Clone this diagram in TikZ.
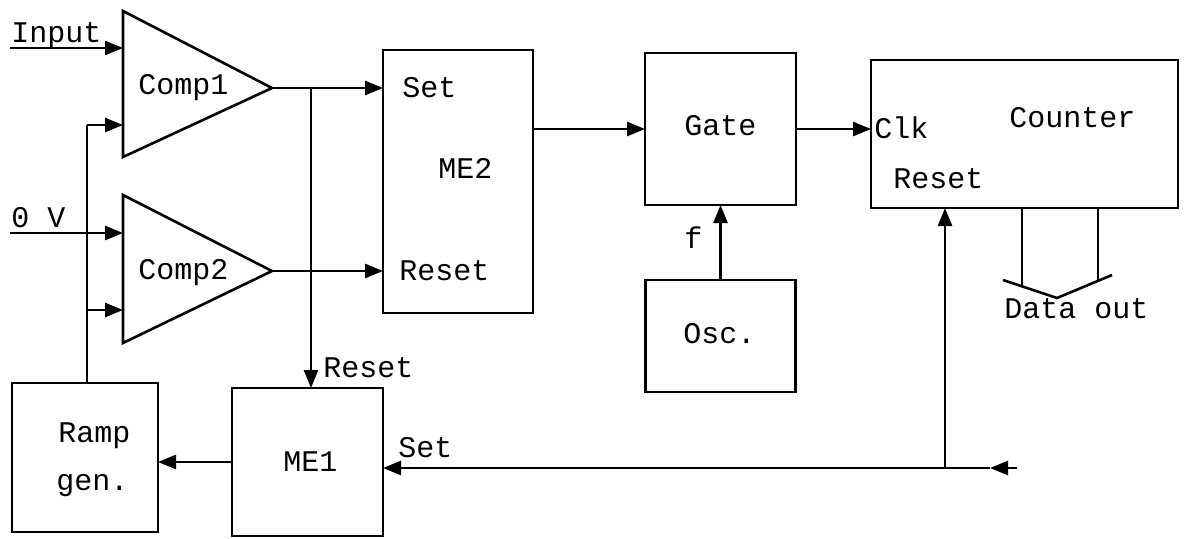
\documentclass[tikz,border=0pt]{standalone}
\usepackage{fontspec}
\setmainfont{Liberation Mono}
\usetikzlibrary{arrows.meta}
\begin{document}
\begin{tikzpicture}[x=1pt,y=-1pt,
  line width=2.6pt,
  box/.style={draw,rectangle,outer sep=0pt,inner sep=0pt},
  lbl/.style={inner sep=0pt,anchor=base west,font=\fontsize{30}{34}\selectfont},
  arr/.style={-{Triangle[length=18pt,width=14pt]}},
  ]
\useasboundingbox (0,0) rectangle (1185,538);

% boxes
\node[box,minimum width=150pt,minimum height=263pt] (me2) at (458,181.5) {};
\node[box,minimum width=151pt,minimum height=152pt] (gate) at (720.5,129) {};
\node[box,minimum width=150pt,minimum height=112pt] (osc) at (720.5,336) {};
\node[box,minimum width=307pt,minimum height=148pt] (counter) at (1024.5,134) {};
\node[box,minimum width=146pt,minimum height=149pt] (ramp) at (85,457.5) {};
\node[box,minimum width=151pt,minimum height=148pt] (me1) at (307.5,462) {};

% comparators
\coordinate (c1a) at (123,11);
\coordinate (c1b) at (123,157);
\coordinate (c1o) at (272,88);
\coordinate (c2a) at (123,195);
\coordinate (c2b) at (123,343);
\coordinate (c2o) at (272,271);
\draw[line join=miter] (c1a) -- (c1o) -- (c1b) -- cycle;
\draw[line join=miter] (c2a) -- (c2o) -- (c2b) -- cycle;

% inputs
\coordinate (in1) at (10,48);
\coordinate (c1p) at (123,48);
\coordinate (c1n) at (123,125);
\coordinate (in0) at (10,233);
\coordinate (c2p) at (123,233);
\coordinate (c2n) at (123,310);
\coordinate (vtop) at (87,125);
\coordinate (vj) at (87,310);
\draw[arr] (in1) -- (c1p);
\draw[arr] (in0) -- (c2p);
\draw (vtop |- ramp.north) -- (vtop);
\draw[arr] (vtop) -- (c1n);
\draw[arr] (vj) -- (c2n);

% comparator outputs
\draw[arr] (c1o) -- (me2.west |- c1o);
\draw[arr] (c2o) -- (me2.west |- c2o);
\coordinate (br) at (311,88);
\draw[arr] (br) -- (br |- me1.north);

% ME2 -> Gate -> Counter
\draw[arr] (me2.east |- gate.west) -- (gate.west);
\draw[arr] (gate.east) -- (counter.west |- gate.east);
\draw[arr] (osc.north) -- (gate.south);

% ME1 -> Ramp
\draw[arr] (me1.west) -- (ramp.east |- me1.west);

% Set line
\coordinate (sj) at (945,468);
\coordinate (sfree) at (1017,468);
\coordinate (sa) at (990,468);
\draw[arr] (sfree) -- (sa);
\draw[arr] (sa) -- (me1.east |- sa);
\draw[arr] (sj) -- (sj |- counter.south);

% Data out
\coordinate (d1) at (1022,286);
\coordinate (d2) at (1098,281);
\coordinate (vl) at (1003,280);
\coordinate (vm) at (1057,298);
\coordinate (vr) at (1112,275);
\draw (d1 |- counter.south) -- (d1);
\draw (d2 |- counter.south) -- (d2);
\draw[line join=miter] (vl) -- (vm) -- (vr);

% labels
\node[lbl] (tInput) at (10,42) {Input};
\node[lbl] (t0V) at (10,227) {0 V};
\node[lbl] (tComp1) at (137,94) {Comp1};
\node[lbl] (tComp2) at (137,279) {Comp2};
\node[lbl] (tSet2) at (401,97) {Set};
\node[lbl] (tME2) at (437,178) {ME2};
\node[lbl] (tReset2) at (398,280) {Reset};
\node[lbl] (tGate) at (683,135) {Gate};
\node[lbl] (tf) at (683,248) {f};
\node[lbl] (tOsc) at (682,343) {Osc.};
\node[lbl] (tCounter) at (1008,127) {Counter};
\node[lbl] (tClk) at (873,138) {Clk};
\node[lbl] (tResetC) at (892,188) {Reset};
\node[lbl] (tData) at (1003,318) {Data out};
\node[lbl] (tReset1) at (322,377) {Reset};
\node[lbl] (tSet1) at (397,457) {Set};
\node[lbl] (tRamp) at (57,442) {Ramp};
\node[lbl] (tgen) at (55,490) {gen.};
\node[lbl] (tME1) at (282,471) {ME1};
\end{tikzpicture}
\end{document}
